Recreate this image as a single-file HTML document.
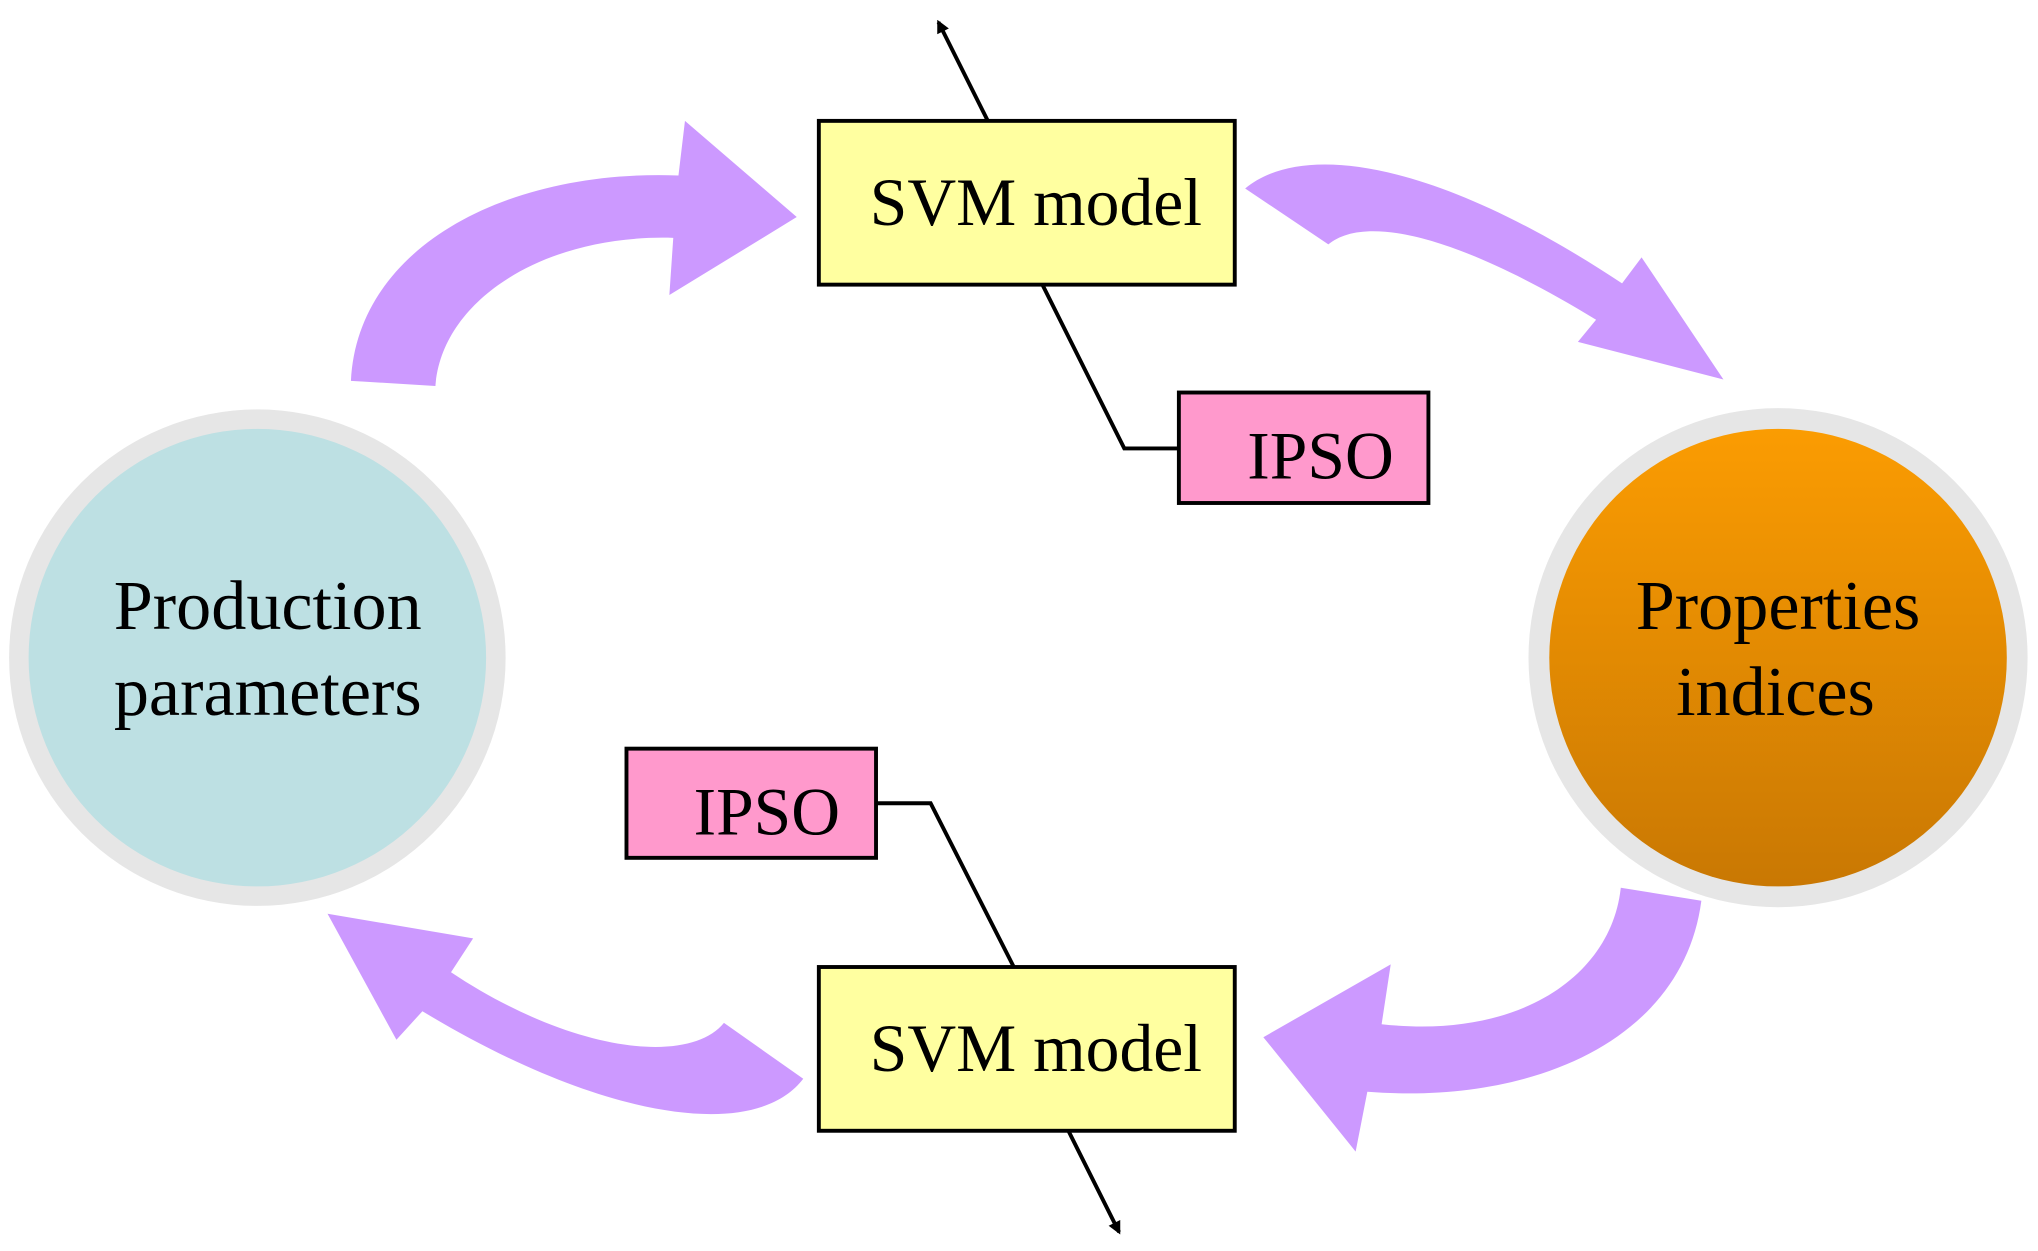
<!DOCTYPE html>
<html><head><meta charset="utf-8"><style>
html,body{margin:0;padding:0;background:#fff;}
svg{display:block;}
text{font-family:"Liberation Serif",serif;fill:#000;}
</style></head><body>
<svg width="2038" height="1251" viewBox="0 0 1568 962.5" xmlns="http://www.w3.org/2000/svg">
<defs>
<linearGradient id="og" x1="0" y1="0" x2="0" y2="1">
<stop offset="0" stop-color="#fb9c02"/><stop offset="1" stop-color="#c97803"/>
</linearGradient>
<marker id="ah" markerWidth="10" markerHeight="10" refX="8" refY="5" orient="auto" markerUnits="userSpaceOnUse">
<path d="M0,0 L10,5 L0,10 Z" fill="#000"/>
</marker>
</defs>
<!-- circles -->
<circle cx="198" cy="506" r="191" fill="#e6e6e6"/>
<circle cx="198" cy="506" r="176" fill="#bde0e3"/>
<circle cx="1368" cy="506" r="192" fill="#e6e6e6"/>
<circle cx="1368" cy="506" r="176" fill="url(#og)"/>
<text x="206" y="484" font-size="54" text-anchor="middle">Production</text>
<text x="206" y="550" font-size="54" text-anchor="middle">parameters</text>
<text x="1368" y="484" font-size="54" text-anchor="middle">Properties</text>
<text x="1366" y="550" font-size="54" text-anchor="middle">indices</text>
<!-- purple arrows -->
<g fill="#cc99ff">
<path d="M270,293 C275,190 390,130 522,135 L527,93 L613,167 L515,227 L518,183 C420,180 340,230 335,297 Z"/>
<path d="M958,145 C1000,110 1100,120 1248,218 L1263,198 L1326,292 L1214,263 L1228,246 C1120,180 1050,165 1022,188 Z"/>
<path d="M1309,693 C1295,800 1180,850 1052,840 L1043,886 L972,798 L1070,742 L1063,788 C1170,800 1240,750 1247,683 Z"/>
<path d="M618,830 C580,880 460,860 325,778 L305,800 L252,703 L364,722 L347,748 C440,810 530,820 557,787 Z"/>
</g>
<!-- connectors -->
<g stroke="#000" stroke-width="3" fill="none">
<polyline points="802,219 865,345 907,345"/>
<polyline points="674,618 716,618 780,744"/>
<line x1="760" y1="93" x2="722" y2="17" marker-end="url(#ah)"/>
<line x1="822" y1="870" x2="861" y2="948" marker-end="url(#ah)"/>
</g>
<!-- boxes -->
<rect x="630" y="93" width="320" height="126" fill="#ffffa0" stroke="#000" stroke-width="3"/>
<text x="797" y="173" font-size="52" text-anchor="middle">SVM model</text>
<rect x="630" y="744" width="320" height="126" fill="#ffffa0" stroke="#000" stroke-width="3"/>
<text x="797" y="824" font-size="52" text-anchor="middle">SVM model</text>
<rect x="907" y="302" width="192" height="85" fill="#ff99cc" stroke="#000" stroke-width="3"/>
<text x="1016" y="368" font-size="52" text-anchor="middle">IPSO</text>
<rect x="482" y="576" width="192" height="84" fill="#ff99cc" stroke="#000" stroke-width="3"/>
<text x="590" y="642" font-size="52" text-anchor="middle">IPSO</text>
</svg>
</body></html>
